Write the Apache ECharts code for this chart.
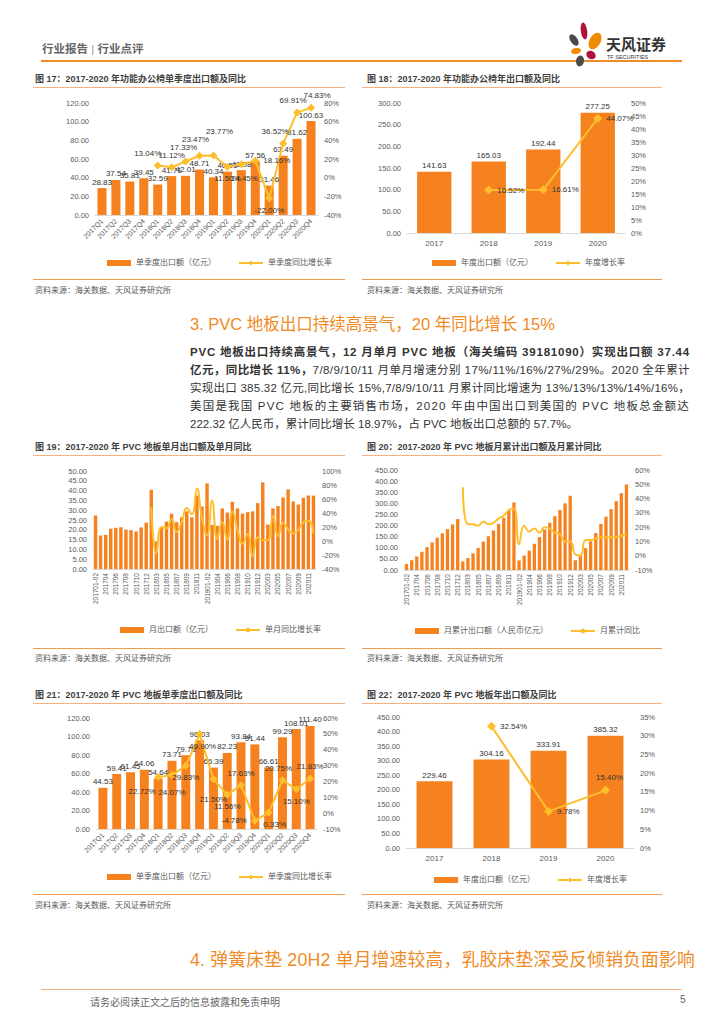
<!DOCTYPE html>
<html><head><meta charset="utf-8">
<script src="https://cdn.jsdelivr.net/npm/echarts/dist/echarts.min.js"></script>
<style>
html,body{margin:0;padding:0;background:#fff;}
body{width:724px;height:1024px;position:relative;overflow:hidden;font-family:"Liberation Sans","Noto Sans CJK SC",sans-serif;color:#333;}
.abs{position:absolute;}
.title{font-size:9px;font-weight:bold;color:#404040;white-space:nowrap;}
.tline{height:1px;background:#F4B183;}
.bline{height:1px;background:#F39C50;}
.src{font-size:8px;color:#595959;white-space:nowrap;}
.para{font-size:11.5px;color:#333;white-space:nowrap;}
.chart{position:absolute;}
</style></head><body>

<div class="abs" style="left:42px;top:40px;font-size:11.5px;font-weight:bold;color:#666;white-space:nowrap;">行业报告 <span style="font-weight:normal;color:#999">|</span> 行业点评</div>
<div class="abs" style="left:41px;top:60px;width:641px;height:2px;background:#F08A24;"></div>
<svg class="abs" style="left:560px;top:18px" width="124" height="50" viewBox="560 18 124 50">
  <ellipse cx="584" cy="31" rx="3.2" ry="8.5" fill="#B0123B" transform="rotate(-8 584 31)"/>
  <ellipse cx="595" cy="41" rx="5.5" ry="9" fill="#F08A00" transform="rotate(30 595 41)"/>
  <ellipse cx="574" cy="40" rx="3.5" ry="6.5" fill="#4A4A4A" transform="rotate(-35 574 40)"/>
  <ellipse cx="576" cy="51" rx="5" ry="3" fill="#F08A00" transform="rotate(-10 576 51)"/>
  <ellipse cx="591" cy="55" rx="5" ry="4" fill="#B0123B" transform="rotate(35 591 55)"/>
  <ellipse cx="580" cy="61" rx="4" ry="5.5" fill="#4A4A4A" transform="rotate(10 580 61)"/>
  <text x="606" y="50" font-size="15" font-weight="bold" fill="#333" font-family="Noto Sans CJK SC">天风证券</text>
  <text x="607" y="59" font-size="5.5" fill="#333" font-family="Liberation Sans">TF SECURITIES</text>
</svg>

<!-- chart 17 / 18 frames -->
<div class="abs title" style="left:35px;top:72px;">图 17：2017-2020 年功能办公椅单季度出口额及同比</div>
<div class="abs tline" style="left:33px;top:87px;width:312px;"></div>
<div class="abs title" style="left:367px;top:72px;">图 18：2017-2020 年功能办公椅年出口额及同比</div>
<div class="abs tline" style="left:362px;top:87px;width:300px;"></div>
<div id="c17" class="chart" style="left:30px;top:88px;width:320px;height:185px;"></div>
<div id="c18" class="chart" style="left:362px;top:88px;width:300px;height:185px;"></div>
<div class="abs bline" style="left:33px;top:279px;width:312px;"></div>
<div class="abs bline" style="left:362px;top:279px;width:300px;"></div>
<div class="abs src" style="left:35px;top:284px;">资料来源：海关数据、天风证券研究所</div>
<div class="abs src" style="left:367px;top:284px;">资料来源：海关数据、天风证券研究所</div>

<div class="abs" style="left:190px;top:311px;font-size:16.5px;color:#F08A24;white-space:nowrap;">3. PVC 地板出口持续高景气，20 年同比增长 15%</div>

<div id="paraBox">
<div class="abs para fit" data-w="500" style="left:190px;top:343px;"><b>PVC 地板出口持续高景气，12 月单月 PVC 地板（海关编码 39181090）实现出口额 37.44</b></div>
<div class="abs para fit" data-w="500" style="left:190px;top:361px;"><b>亿元，同比增长 11%，</b>7/8/9/10/11 月单月增速分别 17%/11%/16%/27%/29%。2020 全年累计</div>
<div class="abs para fit" data-w="500" style="left:190px;top:379px;">实现出口 385.32 亿元,同比增长 15%,7/8/9/10/11 月累计同比增速为 13%/13%/13%/14%/16%，</div>
<div class="abs para fit" data-w="500" style="left:190px;top:397px;">美国是我国 PVC 地板的主要销售市场，2020 年由中国出口到美国的 PVC 地板总金额达</div>
<div class="abs para" style="left:190px;top:415px;">222.32 亿人民币，累计同比增长 18.97%，占 PVC 地板出口总额的 57.7%。</div>
</div>

<!-- chart 19 / 20 -->
<div class="abs title" style="left:35px;top:440px;">图 19：2017-2020 年 PVC 地板单月出口额及单月同比</div>
<div class="abs tline" style="left:33px;top:455px;width:312px;"></div>
<div class="abs title" style="left:367px;top:440px;">图 20：2017-2020 年 PVC 地板月累计出口额及月累计同比</div>
<div class="abs tline" style="left:362px;top:455px;width:300px;"></div>
<div id="c19" class="chart" style="left:30px;top:458px;width:320px;height:182px;"></div>
<div id="c20" class="chart" style="left:362px;top:458px;width:300px;height:182px;"></div>
<div class="abs bline" style="left:33px;top:648px;width:312px;"></div>
<div class="abs bline" style="left:362px;top:648px;width:300px;"></div>
<div class="abs src" style="left:35px;top:652px;">资料来源：海关数据、天风证券研究所</div>
<div class="abs src" style="left:367px;top:652px;">资料来源：海关数据、天风证券研究所</div>

<!-- chart 21 / 22 -->
<div class="abs title" style="left:35px;top:688px;">图 21：2017-2020 年 PVC 地板单季度出口额及同比</div>
<div class="abs tline" style="left:33px;top:703px;width:312px;"></div>
<div class="abs title" style="left:367px;top:688px;">图 22：2017-2020 年 PVC 地板年出口额及同比</div>
<div class="abs tline" style="left:362px;top:703px;width:300px;"></div>
<div id="c21" class="chart" style="left:30px;top:703px;width:320px;height:185px;"></div>
<div id="c22" class="chart" style="left:362px;top:703px;width:300px;height:185px;"></div>
<div class="abs bline" style="left:33px;top:894px;width:312px;"></div>
<div class="abs bline" style="left:362px;top:894px;width:300px;"></div>
<div class="abs src" style="left:35px;top:899px;">资料来源：海关数据、天风证券研究所</div>
<div class="abs src" style="left:367px;top:899px;">资料来源：海关数据、天风证券研究所</div>

<div class="abs fit" data-w="505" style="left:190px;top:945px;font-size:17.8px;color:#F08A24;white-space:nowrap;">4. 弹簧床垫 20H2 单月增速较高，乳胶床垫深受反倾销负面影响</div>

<div class="abs" style="left:41px;top:989px;width:641px;height:1px;background:#F4B183;"></div>
<div class="abs" style="left:90px;top:994px;font-size:10px;color:#666;white-space:nowrap;">请务必阅读正文之后的信息披露和免责申明</div>
<div class="abs" style="left:680px;top:994px;font-size:10px;color:#666;">5</div>

<script>
// ---------- data ----------
const quarterCats = ['2017Q1','2017Q2','2017Q3','2017Q4','2018Q1','2018Q2','2018Q3','2018Q4','2019Q1','2019Q2','2019Q3','2019Q4','2020Q1','2020Q2','2020Q3','2020Q4'];
const yearCats = ['2017','2018','2019','2020'];

// 图17 功能办公椅单季度
const chairQExport = [28.83,37.54,35.81,39.45,32.59,41.71,42.01,48.71,40.34,46.51,48.08,57.56,31.46,63.49,81.62,100.63];
const chairQGrowth = [null,null,null,null,13.04,11.12,17.33,23.47,23.77,11.50,14.45,18.16,-22.00,36.52,69.91,74.83];
// 图18 功能办公椅年度
const chairYExport = [141.63,165.03,192.44,277.25];
const chairYGrowth = [null,16.52,16.61,44.07];

// 图19/20 月度
const monthCats = ['201701-02','201703','201704','201705','201706','201707','201708','201709','201710','201711','201712',
  '201801-02','201803','201804','201805','201806','201807','201808','201809','201810','201811','201812',
  '201901-02','201903','201904','201905','201906','201907','201908','201909','201910','201911','201912',
  '202001-02','202003','202004','202005','202006','202007','202008','202009','202010','202011','202012'];
const pvcMonthExport = [27.3,17.1,17.4,20.6,21.0,21.3,20.1,19.8,19.1,21.2,23.7,
  40.4,14.1,21.3,24.2,28.2,23.9,26.4,29.4,26.4,37.5,31.9,
  43.7,22.5,22.0,30.9,28.8,34.3,30.9,28.3,29.0,29.4,33.6,
  44.2,22.7,30.9,32.1,36.5,40.6,34.5,32.9,36.3,37.5,37.44];
const pvcMonthGrowth = [null,null,null,null,null,null,null,null,null,null,null,
  48,-18,20,18,31,13,27,47,38,75,33,
  8,58,3,27,2,42,17,-4,10,-22,5,
  1,1,36,7,26,17,11,16,27,29,11];
const pvcCumExport = [27,44,61,82,103,124,145,165,184,205,229,
  39,54,75,99,128,152,178,207,234,270,304,
  43,65,87,118,148,182,213,242,270,300,334,
  44,66,98,129,166,207,240,274,310,346,385];
const pvcCumGrowth = [null,null,null,null,null,null,null,null,null,null,null,
  48,22,22,21,24,22,23,26,28,32,33,
  8,21,17,19,16,20,19,16,15,10,10,
  1,0,11,11,12,13,13,13,13,14,15.4];

// 图21 PVC 单季度
const pvcQExport = [44.53,59.41,61.45,64.06,54.64,73.71,79.78,96.03,66.39,82.23,93.84,91.44,66.61,99.29,108.01,111.40];
const pvcQGrowth = [null,null,null,null,22.72,24.07,29.83,49.90,21.50,11.56,17.63,-4.78,0.33,20.75,15.10,21.83];
// 图22 PVC 年度
const pvcYExport = [229.46,304.16,333.91,385.32];
const pvcYGrowth = [null,32.54,9.78,15.40];

// ---------- styles ----------
const ORANGE = '#F5821F', GOLD = '#FDBE2C', TXT = '#595959', LBL = '#333333';
const FONT = '"Liberation Sans","Noto Sans CJK SC",sans-serif';

function dual(id, o) {
  const chart = echarts.init(document.getElementById(id), null, {renderer: 'svg'});
  const lineData = o.line.map((v, i) => {
    if (v === null) return '-';
    if (!o.linePos || !o.linePos[i]) return v;
    const s = o.linePos[i];
    return {value: v, label: {position: s[0], offset: [s[1] || 0, s[2] || 0]}};
  });
  chart.setOption({
    animation: false,
    textStyle: {fontFamily: FONT},
    grid: o.grid,
    legend: {
      left: o.legendLeft, top: o.legendTop, itemWidth: 24, itemHeight: 6, itemGap: o.legendGap || 22,
      textStyle: {fontSize: 8, color: TXT, fontFamily: FONT},
      data: [{name: o.barName, icon: 'rect'}, {name: o.lineName}]
    },
    xAxis: {
      type: 'category', data: o.cats,
      axisTick: {show: false},
      axisLine: {lineStyle: {color: '#D9D9D9'}},
      axisLabel: {color: TXT, fontSize: o.xFont || 7.5, rotate: o.rotate || 0, interval: o.xInterval === undefined ? 0 : o.xInterval, margin: o.xMargin || 5, fontFamily: FONT}
    },
    yAxis: [
      {type: 'value', min: o.left[0], max: o.left[1], interval: o.left[2], splitLine: {show: false}, axisLine: {show: false}, axisTick: {show: false},
        axisLabel: {color: TXT, fontSize: 7.5, margin: 6, formatter: v => v.toFixed(2)}},
      {type: 'value', min: o.right[0], max: o.right[1], interval: o.right[2], splitLine: {show: false}, axisLine: {show: false}, axisTick: {show: false},
        axisLabel: {color: TXT, fontSize: 7.5, margin: 6, formatter: v => v + '%'}}
    ],
    series: [
      {name: o.barName, type: 'bar', data: o.bar, barWidth: o.barWidth, itemStyle: {color: ORANGE},
        label: o.barLabel ? {show: true, position: 'top', distance: 2, fontSize: 8, color: LBL, formatter: p => p.value.toFixed(2)} : {show: false}},
      {name: o.lineName, type: 'line', yAxisIndex: 1, data: lineData, smooth: !!o.smooth,
        symbol: o.symbol || 'none', symbolSize: o.symbolSize || 7, showSymbol: !!o.symbol,
        lineStyle: {color: GOLD, width: 2}, itemStyle: {color: GOLD},
        label: o.lineLabel ? {show: true, position: 'top', distance: 4, fontSize: 8, color: LBL, formatter: p => p.value.toFixed(2) + '%'} : {show: false},
        z: 5}
    ]
  });
}

dual('c17', {
  grid: {left: 65, top: 15, width: 223, height: 112},
  legendLeft: 72, legendTop: 166,
  cats: quarterCats, rotate: 45, xFont: 7,
  left: [0, 120, 20], right: [-40, 80, 20],
  bar: chairQExport, barWidth: '65%', barLabel: true, barName: '单季度出口额（亿元）',
  line: chairQGrowth, lineName: '单季度同比增长率', lineLabel: true, symbol: 'diamond', symbolSize: 8,
  linePos: [null,null,null,null,['top',-10,0],['top',0,0],['top',-2,-2],['top',-4,-4],['top',6,-12],['bottom',0,0],['bottom',3,2],['right',0,0],['bottom',0,0],['top',-8,0],['top',-4,0],['top',6,0]]
});

dual('c18', {
  grid: {left: 45, top: 15, width: 218, height: 130},
  legendLeft: 65, legendTop: 166,
  cats: yearCats, xFont: 8, xMargin: 6,
  left: [0, 300, 50], right: [0, 50, 5],
  bar: chairYExport, barWidth: '63%', barLabel: true, barName: '年度出口额（亿元）',
  line: chairYGrowth, lineName: '年度增长率', lineLabel: true, symbol: 'diamond', symbolSize: 9,
  linePos: [null,['right',0,0],['right',0,0],['right',0,0]]
});

dual('c19', {
  grid: {left: 63, top: 13, width: 223, height: 98},
  legendLeft: 85, legendTop: 163,
  cats: monthCats, rotate: 90, xFont: 6.5, xInterval: 1, xMargin: 4,
  left: [0, 50, 5], right: [-40, 100, 20],
  bar: pvcMonthExport, barWidth: '68%', barLabel: false, barName: '月出口额（亿元）',
  line: pvcMonthGrowth, lineName: '单月同比增长率', lineLabel: false, smooth: true
});

dual('c20', {
  grid: {left: 42, top: 12, width: 225, height: 100},
  legendLeft: 48, legendTop: 164,
  cats: monthCats, rotate: 90, xFont: 6.5, xInterval: 1, xMargin: 4,
  left: [0, 450, 50], right: [-10, 60, 10],
  bar: pvcCumExport, barWidth: '65%', barLabel: false, barName: '月累计出口额（人民币亿元）',
  line: pvcCumGrowth, lineName: '月累计同比', lineLabel: false, smooth: true
});

dual('c21', {
  grid: {left: 66, top: 15, width: 221, height: 111},
  legendLeft: 72, legendTop: 165,
  cats: quarterCats, rotate: 45, xFont: 7,
  left: [0, 120, 20], right: [-10, 60, 10],
  bar: pvcQExport, barWidth: '65%', barLabel: true, barName: '单季度出口额（亿元）',
  line: pvcQGrowth, lineName: '单季度同比增长率', lineLabel: true, symbol: 'diamond', symbolSize: 8,
  linePos: [null,null,null,null,['bottom',-16,2],['bottom',0,6],['bottom',0,0],['bottom',3,0],['bottom',0,8],['bottom',0,0],['top',0,0],['left',0,0],['bottom',6,0],['top',-4,0],['bottom',0,0],['top',0,0]]
});

dual('c22', {
  grid: {left: 44, top: 14, width: 228, height: 131},
  legendLeft: 67, legendTop: 168,
  cats: yearCats, xFont: 8, xMargin: 6,
  left: [0, 450, 50], right: [0, 35, 5],
  bar: pvcYExport, barWidth: '63%', barLabel: true, barName: '年度出口额（亿元）',
  line: pvcYGrowth, lineName: '年度增长率', lineLabel: true, symbol: 'diamond', symbolSize: 9,
  linePos: [null,['right',0,0],['right',0,0],['top',4,0]]
});

// justify text lines to a common width
document.querySelectorAll('.fit').forEach(el => {
  const target = +el.dataset.w;
  const w = el.getBoundingClientRect().width;
  const n = el.textContent.length;
  if (n > 1) el.style.letterSpacing = ((target - w) / n) + 'px';
});
</script>
</body></html>
